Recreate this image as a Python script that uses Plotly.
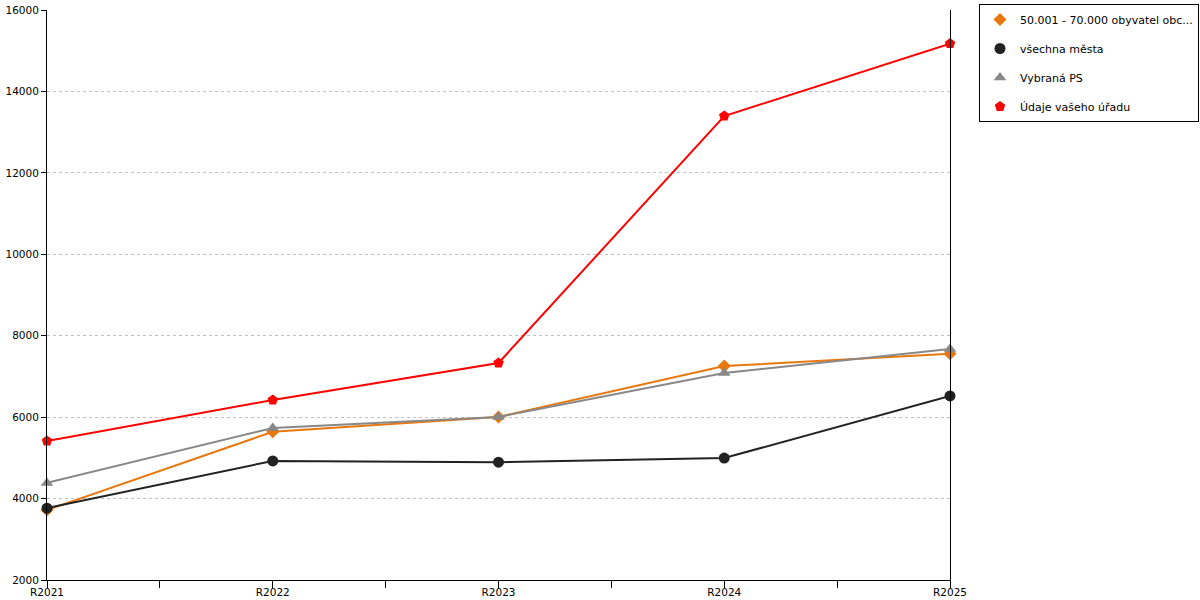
import plotly.graph_objects as go

categories = ["R2021", "R2022", "R2023", "R2024", "R2025"]
orange_vals = [3720, 5640, 6005, 7255, 7555]
black_vals = [3765, 4925, 4895, 4995, 6520]
gray_vals = [4385, 5735, 6005, 7085, 7675]
red_vals = [5415, 6420, 7330, 13395, 15175]

names = ["50.001 - 70.000 obyvatel obc...", "všechna města", "Vybraná PS", "Údaje vašeho úřadu"]
colors = ["#e8770e", "#222222", "#888888", "#ff0000"]
symbols = ["diamond", "circle", "triangle-up", "pentagon"]
msizes = [10, 11, 11, 11]
series = [orange_vals, black_vals, gray_vals, red_vals]

xs = list(range(len(categories)))

fig = go.Figure()
for i, (nm, col, sym, ms, vals) in enumerate(zip(names, colors, symbols, msizes, series)):
    fig.add_trace(go.Scatter(
        x=xs, y=vals, name=nm, mode="lines+markers",
        line=dict(color=col, width=2),
        marker=dict(symbol=sym, size=ms, color=col, line=dict(width=0)),
        legendgroup=f"g{i}", showlegend=False, cliponaxis=False,
    ))
    # legend entry (marker only)
    fig.add_trace(go.Scatter(
        x=[None], y=[None], name=nm, mode="markers",
        marker=dict(symbol=sym, size=ms, color=col, line=dict(width=0)),
        legendgroup=f"g{i}", showlegend=True,
    ))

tickvals = []
ticktext = []
for i, c in enumerate(categories):
    tickvals.append(i)
    ticktext.append(c)
    if i < len(categories) - 1:
        tickvals.append(i + 0.5)
        ticktext.append("")

fig.update_layout(
    width=1200, height=600,
    margin=dict(l=47, r=250, t=10, b=20, pad=0, autoexpand=False),
    paper_bgcolor="white", plot_bgcolor="white",
    font=dict(family="DejaVu Sans", size=10.5, color="#000"),
    showlegend=True,
    legend=dict(
        x=(979 - 47) / 903, y=1 + 6 / 570, xanchor="left", yanchor="top",
        bordercolor="#000", borderwidth=1, bgcolor="white",
        font=dict(family="DejaVu Sans", size=11, color="#000"),
        tracegroupgap=10,
    ),
    xaxis=dict(
        range=[0, len(categories) - 1], tickvals=tickvals, ticktext=ticktext,
        showgrid=False, zeroline=False, showline=True, linecolor="#000", linewidth=1,
        ticks="outside", ticklen=7, tickcolor="#000", automargin=False,
        ticklabelstandoff=-5,
    ),
    yaxis=dict(
        range=[2000, 16000], dtick=2000, tickformat="d", showgrid=True, gridcolor="#c0c0c0",
        griddash="dot", gridwidth=1, zeroline=False, showline=True, linecolor="#000",
        linewidth=1, mirror=True, ticks="outside", ticklen=5, tickcolor="#000",
        automargin=False,
    ),
)

fig.write_html(
    "out.html",
    config={"displayModeBar": False},
    post_script="document.body.style.margin='0';document.body.style.overflow='hidden';",
)
